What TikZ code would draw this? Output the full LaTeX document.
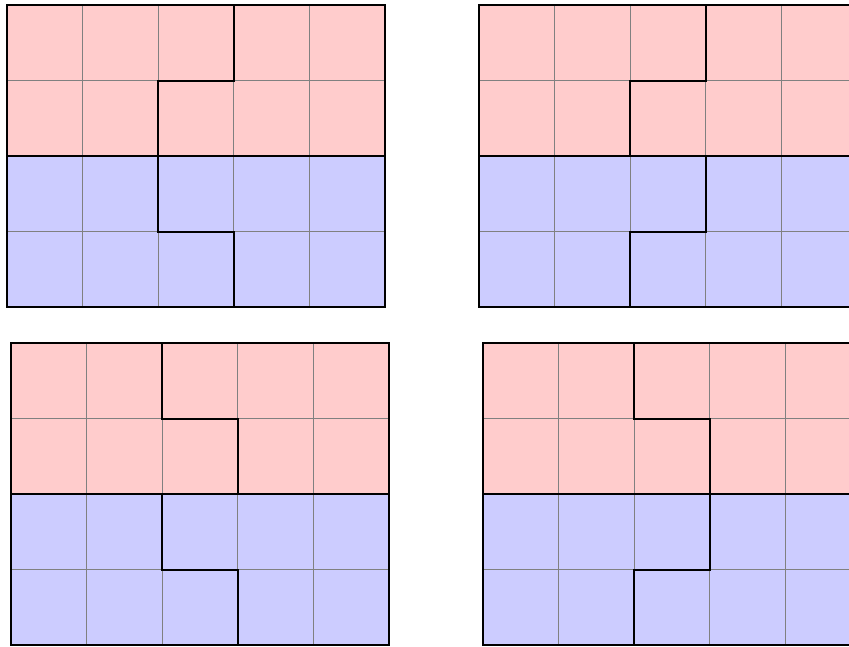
\documentclass[tikz,border=0pt]{standalone}
\definecolor{redfill}{HTML}{FFCCCC}
\definecolor{bluefill}{HTML}{CCCCFF}
\tikzset{
  cellgrid/.style={draw=gray, line width=0.8pt},
  boundary/.style={draw=black, line width=2pt, line join=miter},
}
\begin{document}
\begin{tikzpicture}[x=1pt,y=-1pt]
\useasboundingbox (0,0) rectangle (849,646);
\clip (0,0) rectangle (849,646);
\foreach \ox/\oy/\a/\b/\c/\d in {7/5/3/2/2/3, 479/5/3/2/3/2, 11/343/2/3/2/3, 483/343/2/3/3/2}{
  \begin{scope}[shift={(\ox,\oy)}, x=75.6pt, y=-75.5pt]
    \fill[redfill] (0,0) rectangle (5,2);
    \fill[bluefill] (0,2) rectangle (5,4);
    \foreach \i in {1,2,3,4} \draw[cellgrid] (\i,0) -- (\i,4);
    \foreach \j in {1,3} \draw[cellgrid] (0,\j) -- (5,\j);
    \draw[boundary] (0,0) rectangle (5,4);
    \draw[boundary] (0,2) -- (5,2);
    \draw[boundary] (\a,0) -- (\a,1) -- (\b,1) -- (\b,2);
    \draw[boundary] (\c,2) -- (\c,3) -- (\d,3) -- (\d,4);
  \end{scope}
}
\end{tikzpicture}
\end{document}
